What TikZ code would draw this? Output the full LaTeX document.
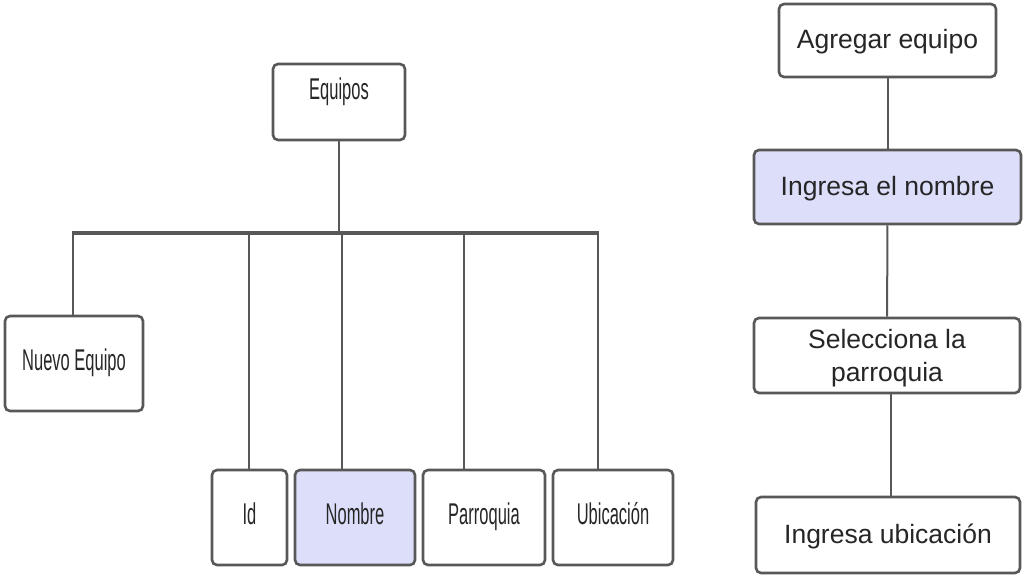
\documentclass[tikz,border=0pt]{standalone}
\usepackage{fontspec}
\setmainfont{Liberation Sans}
\newfontfamily\narrowfont[FakeStretch=0.55]{Liberation Sans}
\usetikzlibrary{positioning}
\definecolor{boxline}{RGB}{88,88,88}
\definecolor{lavanda}{RGB}{220,222,250}

\tikzset{
    caja/.style={draw=boxline, line width=2.6pt, rounded corners=5pt,
                 fill=white, inner sep=0pt, align=center, text=black!85},
    campo/.style={caja, font=\narrowfont\fontsize{30}{34}\selectfont,
                  text height=22pt, text depth=8pt},
    paso/.style={caja, font=\fontsize{26.5}{33}\selectfont},
    unalinea/.style={text height=20pt, text depth=3.6pt},
    marcado/.style={fill=lavanda},
    enlace/.style={draw=boxline, line width=2pt},
    barra/.style={draw=boxline, line width=3.5pt},
}

\begin{document}
\begin{tikzpicture}[x=1pt, y=-1pt]

        \fill[white] (0,0) rectangle (1024,576);
        \useasboundingbox (0,0) rectangle (1024,576);

        % arbol de equipos
        \node (equipos) [campo, text depth=28pt, minimum width=132pt, minimum height=76pt] at (339,102) {Equipos};
        \node (nuevo) [campo, minimum width=138pt, minimum height=95pt] at (74,363.5) {Nuevo Equipo};

        \node (id) [campo, minimum width=75pt, minimum height=95pt] at (249.5,517.5) {Id};
        \node (nombre) [campo, marcado, minimum width=120pt, minimum height=95pt] at (355,517.5) {Nombre};
        \node (parroquia) [campo, minimum width=122pt, minimum height=95pt] at (484,517.5) {Parroquia};
        \node (ubicacion) [campo, minimum width=120pt, minimum height=95pt] at (613,517.5) {Ubicación};

        \coordinate (busL) at (73,233);
        \coordinate (busR) at (598,233);
        \coordinate (jId) at (249,233);
        \coordinate (jNombre) at (342,233);
        \coordinate (jParroquia) at (464,233);

        \draw[enlace] (equipos.south) -- (equipos.south |- busL);
        \draw[enlace] (busL) -- (busL |- nuevo.north);
        \draw[enlace] (jId) -- (jId |- id.north);
        \draw[enlace] (jNombre) -- (jNombre |- nombre.north);
        \draw[enlace] (jParroquia) -- (jParroquia |- parroquia.north);
        \draw[enlace] (busR) -- (busR |- ubicacion.north);
        \draw[barra] ([xshift=-1pt]busL) -- ([xshift=1pt]busR);

        % pasos para agregar
        \node (agregar) [paso, unalinea, minimum width=217pt, minimum height=73pt] at (887.5,40.5) {Agregar equipo};
        \node (ingnombre) [paso, unalinea, marcado, minimum width=267pt, minimum height=74pt] at (887.5,187) {Ingresa el nombre};
        \node (selparroquia) [paso, text depth=0pt, minimum width=266pt, minimum height=75pt] at (887,355.5) {Selecciona la\\parroquia};
        \node (ingubicacion) [paso, unalinea, minimum width=264pt, minimum height=76pt] at (888,535) {Ingresa ubicación};

        \draw[enlace] (agregar) -- (ingnombre);
        \draw[enlace] (ingnombre) -- (selparroquia);
        \draw[enlace] ([xshift=4pt]selparroquia.south) -- ([xshift=4pt]selparroquia.south |- ingubicacion.north);

\end{tikzpicture}
\end{document}
